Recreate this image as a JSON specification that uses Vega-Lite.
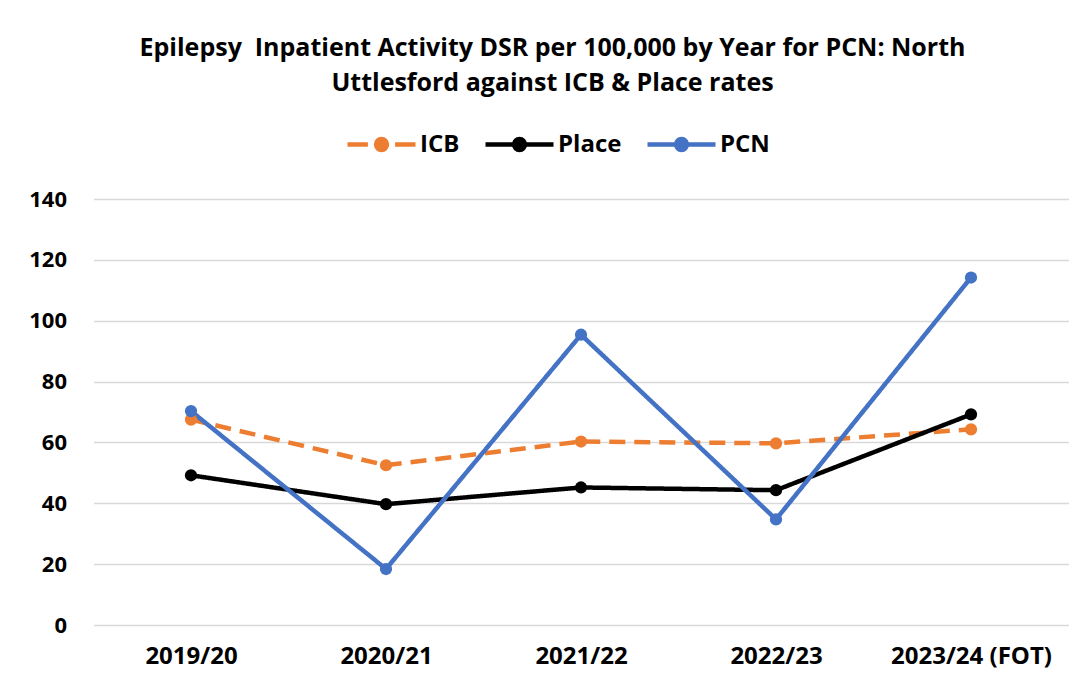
{
  "$schema": "https://vega.github.io/schema/vega-lite/v6.json",
  "width": 975,
  "height": 426,
  "autosize": {"type": "none"},
  "padding": {"left": 93.5, "top": 199, "right": 17.5, "bottom": 66},
  "background": "white",
  "title": {
    "text": ["Epilepsy\u00a0 Inpatient Activity DSR per 100,000 by Year for PCN: North", "Uttlesford against ICB & Place rates"],
    "font": "Open Sans",
    "fontSize": 25,
    "fontWeight": "bold",
    "color": "#000000",
    "lineHeight": 35,
    "anchor": "middle",
    "offset": 12,
    "dx": -28.5
  },
  "data": {
    "values": [
      {"year": "2019/20", "series": "ICB", "value": 67.5},
      {"year": "2020/21", "series": "ICB", "value": 52.5},
      {"year": "2021/22", "series": "ICB", "value": 60.3},
      {"year": "2022/23", "series": "ICB", "value": 59.7},
      {"year": "2023/24 (FOT)", "series": "ICB", "value": 64.3},
      {"year": "2019/20", "series": "Place", "value": 49.2},
      {"year": "2020/21", "series": "Place", "value": 39.7},
      {"year": "2021/22", "series": "Place", "value": 45.2},
      {"year": "2022/23", "series": "Place", "value": 44.3},
      {"year": "2023/24 (FOT)", "series": "Place", "value": 69.2},
      {"year": "2019/20", "series": "PCN", "value": 70.3},
      {"year": "2020/21", "series": "PCN", "value": 18.4},
      {"year": "2021/22", "series": "PCN", "value": 95.4},
      {"year": "2022/23", "series": "PCN", "value": 34.7},
      {"year": "2023/24 (FOT)", "series": "PCN", "value": 114.2}
    ]
  },
  "mark": {"type": "line", "strokeWidth": 4.5, "point": {"filled": true, "size": 150, "opacity": 1}},
  "encoding": {
    "x": {
      "field": "year",
      "type": "nominal",
      "sort": null,
      "axis": {
        "title": null,
        "labelAngle": 0,
        "labelFont": "Open Sans",
        "labelFontSize": 24,
        "labelFontWeight": "bold",
        "labelColor": "#000000",
        "labelPadding": 19,
        "domain": false,
        "ticks": false,
        "grid": false
      }
    },
    "y": {
      "field": "value",
      "type": "quantitative",
      "scale": {"domain": [0, 140], "nice": false},
      "axis": {
        "title": null,
        "values": [0, 20, 40, 60, 80, 100, 120, 140],
        "labelFont": "Open Sans",
        "labelFontSize": 22,
        "labelFontWeight": "bold",
        "labelColor": "#000000",
        "labelPadding": 27,
        "domain": false,
        "ticks": false,
        "grid": true,
        "gridColor": "#d9d9d9",
        "gridWidth": 1.5
      }
    },
    "color": {
      "field": "series",
      "type": "nominal",
      "scale": {"domain": ["ICB", "Place", "PCN"], "range": ["#ED7D31", "#000000", "#4472C4"]},
      "legend": {
        "title": null,
        "orient": "none",
        "direction": "horizontal",
        "legendX": 251.5,
        "legendY": -91,
        "symbolType": "M-1,0L1,0M-0.16,0A0.16,0.16,0,1,1,0.16,0A0.16,0.16,0,1,1,-0.16,0Z",
        "symbolSize": 4624,
        "symbolStrokeWidth": 4.5,
        "labelFont": "Open Sans",
        "labelFontSize": 24,
        "labelFontWeight": "bold",
        "labelColor": "#000000",
        "labelOffset": 2,
        "columnPadding": 16,
        "encode": {
          "symbols": {
            "update": {
              "shape": {"signal": "datum.value === 'ICB' ? 'M-1,0L-0.4,0M0.4,0L1,0M-0.16,0A0.16,0.16,0,1,1,0.16,0A0.16,0.16,0,1,1,-0.16,0Z' : 'M-1,0L1,0M-0.16,0A0.16,0.16,0,1,1,0.16,0A0.16,0.16,0,1,1,-0.16,0Z'"},
              "fill": {"scale": "color", "field": "value"},
              "opacity": {"value": 1}
            }
          }
        }
      }
    },
    "strokeDash": {
      "condition": {"test": "datum.series === 'ICB'", "value": [16, 9]},
      "value": [1, 0]
    }
  },
  "config": {
    "view": {"stroke": null}
  }
}
